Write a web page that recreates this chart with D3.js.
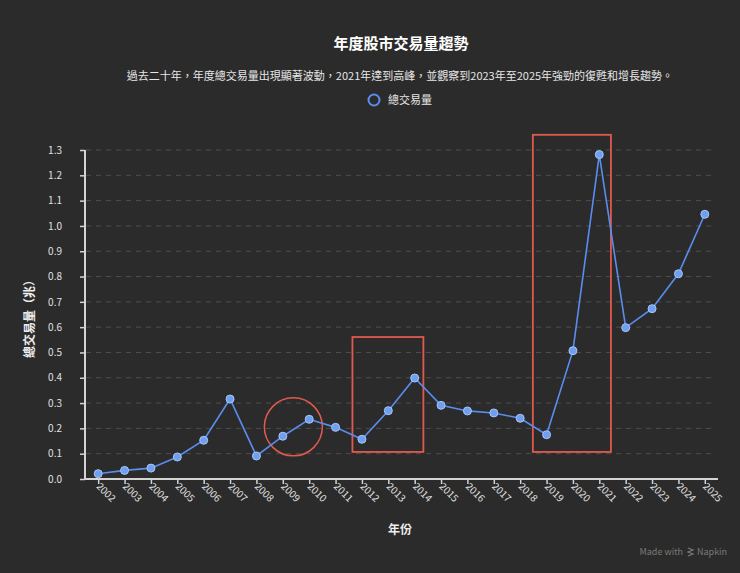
<!DOCTYPE html>
<html><head><meta charset="utf-8">
<script src="https://cdn.jsdelivr.net/npm/d3@7"></script>
<style>html,body{margin:0;padding:0;background:#2b2b2b;}svg{display:block;}</style>
</head><body>
<script>
const years = ["2002","2003","2004","2005","2006","2007","2008","2009","2010","2011","2012","2013","2014","2015","2016","2017","2018","2019","2020","2021","2022","2023","2024","2025"];
const volumes = [0.021,0.034,0.043,0.087,0.153,0.316,0.091,0.169,0.236,0.204,0.157,0.27,0.399,0.291,0.269,0.261,0.24,0.175,0.507,1.282,0.598,0.673,0.811,1.046];
const yTicks = [0,0.1,0.2,0.3,0.4,0.5,0.6,0.7,0.8,0.9,1.0,1.1,1.2,1.3];
const title = "年度股市交易量趨勢";
const subtitle = "過去二十年，年度總交易量出現顯著波動，2021年達到高峰，並觀察到2023年至2025年強勁的復甦和增長趨勢。";
const seriesName = "總交易量";
const xTitle = "年份";
const yTitle = "總交易量（兆）";
// highlight boxes: from year, to year, top value, bottom value
const boxFrom = ["2012","2019"];
const boxTo = ["2014","2021"];
const boxTop = [0.561,1.36];
const boxBottom = [0.107,0.107];

const W=740,H=573;
const font = "'Noto Sans CJK TC','Noto Sans',sans-serif";
const svg = d3.select("body").append("svg").attr("width",W).attr("height",H).style("background","#2b2b2b");

const x = d3.scalePoint().domain(years).range([85,718]).padding(0.5);
const y = d3.scaleLinear().domain([0,1.3]).range([479,150]);
const step = x.step();
const boxPadL = [0.36*step, 0.52*step];
const boxPadR = [0.33*step, 0.44*step];

// title
svg.append("text").attr("x",401).attr("y",49).attr("text-anchor","middle")
  .attr("font-family",font).attr("font-size",15).attr("font-weight","bold").attr("fill","#ffffff").text(title);
svg.append("text").attr("x",400).attr("y",80).attr("text-anchor","middle")
  .attr("font-family",font).attr("font-size",11).attr("fill","#e6e6e6").text(subtitle);
// legend
svg.append("circle").attr("cx",374).attr("cy",100).attr("r",5.5).attr("fill","none").attr("stroke","#5b8def").attr("stroke-width",2);
svg.append("text").attr("x",388).attr("y",104).attr("font-family",font).attr("font-size",11).attr("fill","#e6e6e6").text(seriesName);

// grid
svg.append("g").selectAll("line").data(yTicks.filter(d=>d>0)).join("line")
  .attr("x1",86).attr("x2",713).attr("y1",d=>y(d)).attr("y2",d=>y(d))
  .attr("stroke","#4e4e4e").attr("stroke-width",1).attr("stroke-dasharray","5,5");

// axes
const yAxis = svg.append("g").attr("transform","translate(85,0)")
  .call(d3.axisLeft(y).tickValues(yTicks).tickFormat(d3.format(".1f")).tickSize(5).tickPadding(18));
const xAxis = svg.append("g").attr("transform","translate(0,479)")
  .call(d3.axisBottom(x).tickSize(5).tickPadding(4));
[yAxis,xAxis].forEach(g=>{
  g.select(".domain").attr("stroke","#d4d4d4").attr("stroke-width",2);
  g.selectAll(".tick line").attr("stroke","#d4d4d4").attr("stroke-width",1.5);
  g.selectAll("text").attr("fill","#e0e0e0").attr("font-family",font).attr("font-size",10);
});
xAxis.select(".domain").attr("d","M85,0H718");
yAxis.select(".domain").attr("d","M0,479V150");
xAxis.selectAll(".tick text").attr("text-anchor","start").attr("dy",0).attr("y",0)
  .attr("transform","translate(-3,8) rotate(45)");

// axis titles
svg.append("text").attr("x",400).attr("y",534).attr("text-anchor","middle")
  .attr("font-family",font).attr("font-size",12).attr("font-weight","bold").attr("fill","#eeeeee").text(xTitle);
svg.append("text").attr("transform","translate(34,316) rotate(-90)").attr("text-anchor","middle")
  .attr("font-family",font).attr("font-size",12).attr("font-weight","bold").attr("fill","#eeeeee").text(yTitle);

// annotations
svg.append("g").selectAll("rect").data(boxFrom.map((f,i)=>i)).join("rect")
  .attr("x",i=>x(boxFrom[i])-boxPadL[i])
  .attr("y",i=>y(boxTop[i]))
  .attr("width",i=>x(boxTo[i])+boxPadR[i]-(x(boxFrom[i])-boxPadL[i]))
  .attr("height",i=>y(boxBottom[i])-y(boxTop[i]))
  .attr("fill","none").attr("stroke","#e05a4e").attr("stroke-width",1.8);
svg.append("circle").attr("cx",x("2009")+step*0.4).attr("cy",y(0.206)).attr("r",29)
  .attr("fill","none").attr("stroke","#e05a4e").attr("stroke-width",1.5);

// line
const data = years.map((yr,i)=>({yr,v:volumes[i]}));
svg.append("path").datum(data)
  .attr("d",d3.line().x(d=>x(d.yr)).y(d=>y(d.v)))
  .attr("fill","none").attr("stroke","#5b8def").attr("stroke-width",1.6);
svg.append("g").selectAll("circle").data(data).join("circle")
  .attr("cx",d=>x(d.yr)).attr("cy",d=>y(d.v)).attr("r",4)
  .attr("fill","#6f9fee").attr("stroke","#a9c6f7").attr("stroke-width",1);

// watermark
const wm = svg.append("g").attr("fill","#7a7a7a").attr("font-family",font).attr("font-size",9);
wm.append("text").attr("x",683).attr("y",555).attr("text-anchor","end").text("Made with");
wm.append("path").attr("d","M688,548 l5,2 l-5,2 l5,2 l-5,2").attr("fill","none").attr("stroke","#7a7a7a").attr("stroke-width",1.2);
wm.append("text").attr("x",697).attr("y",555).text("Napkin");
</script>
</body></html>
